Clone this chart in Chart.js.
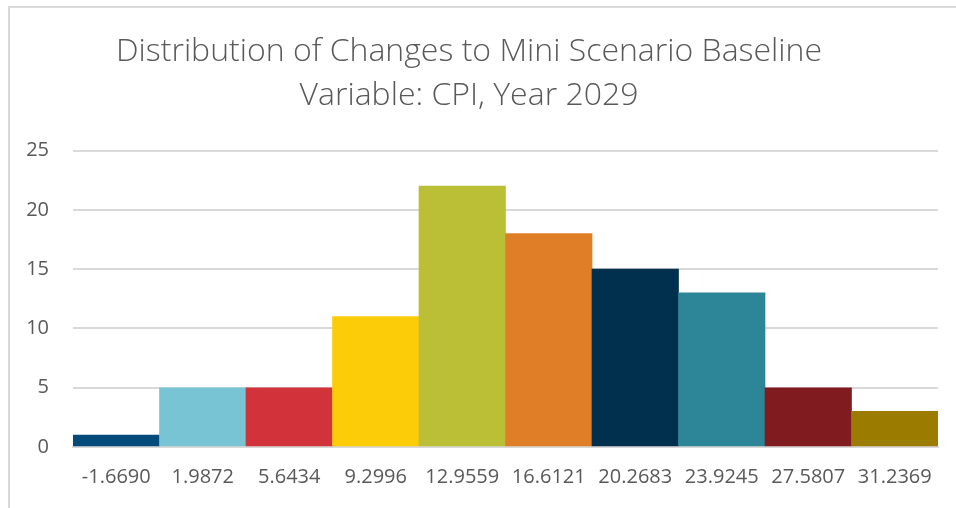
<!DOCTYPE html>
<html>
<head>
<meta charset="utf-8">
<script src="https://cdn.jsdelivr.net/npm/chart.js@4.4.1/dist/chart.umd.min.js"></script>
<style>
  html, body { margin: 0; padding: 0; background: #fff; }
  #frame {
    position: absolute; left: 8px; top: 6px; width: 1000px; height: 560px;
    border-left: 2px solid #d9d9d9; border-top: 2px solid #d9d9d9;
  }
  #wrap { position: absolute; left: 0; top: 0; width: 956px; height: 508px; }
</style>
</head>
<body>
<div id="frame"></div>
<div id="wrap"><canvas id="chart" width="956" height="508"></canvas></div>
<script>
// bin labels and counts
const binLabels = ['-1.6690', '1.9872', '5.6434', '9.2996', '12.9559', '16.6121', '20.2683', '23.9245', '27.5807', '31.2369'];
const counts = [1, 5, 5, 11, 22, 18, 15, 13, 5, 3];
const barColors = ['#044b7b', '#78c4d4', '#d23239', '#fdcc08', '#bbbf35', '#e07e27', '#012f4e', '#2d8697', '#801c20', '#9c7c00'];
const titleLines = ['Distribution of Changes to Mini Scenario Baseline', 'Variable: CPI, Year 2029'];

const textColor = '#595959';

const config = {
    type: 'bar',
    data: {
        labels: binLabels,
        datasets: [{
            data: counts,
            backgroundColor: barColors,
            borderWidth: 0,
            barPercentage: 1.0,
            categoryPercentage: 1.0
        }]
    },
    options: {
        responsive: false,
        animation: false,
        layout: { padding: { left: 0, right: 18, top: 0, bottom: 0 } },
        plugins: {
            legend: { display: false },
            tooltip: { enabled: false },
            title: {
                display: true,
                text: titleLines,
                color: textColor,
                font: { family: 'Open Sans', weight: '300', size: 32, lineHeight: 1.4 },
                padding: { top: 29, bottom: 32 }
            }
        },
        scales: {
            x: {
                grid: { display: false, drawTicks: false },
                border: { display: true, color: '#d9d9d9', width: 2 },
                ticks: {
                    color: textColor,
                    font: { family: 'Open Sans', size: 20 },
                    padding: 18,
                    maxRotation: 0,
                    autoSkip: false
                },
                afterFit: function(scale) { scale.height = 61; }
            },
            y: {
                min: 0,
                max: 25,
                ticks: {
                    stepSize: 5,
                    color: textColor,
                    font: { family: 'Open Sans', size: 20 },
                    padding: 24
                },
                grid: { color: '#d9d9d9', lineWidth: 2, drawTicks: false },
                border: { display: false },
                afterFit: function(scale) { scale.width = 73; }
            }
        }
    }
};

new Chart(document.getElementById('chart'), config);
</script>
</body>
</html>
